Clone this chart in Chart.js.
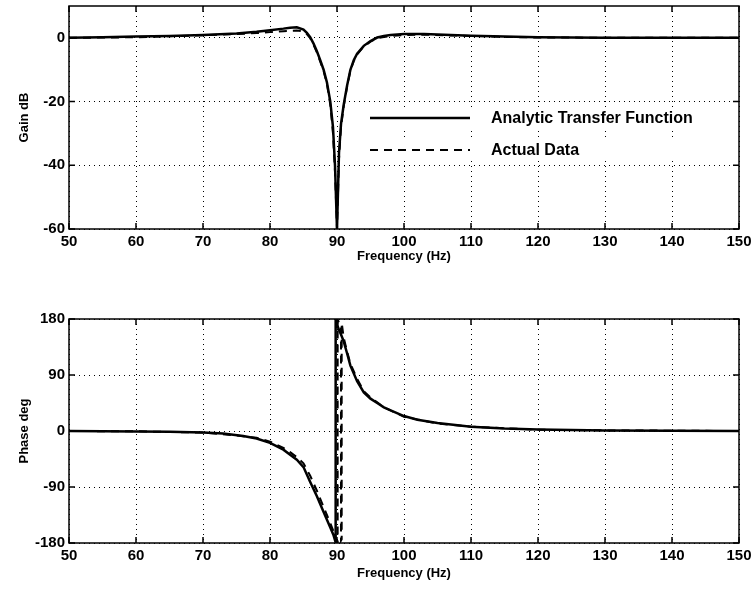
<!DOCTYPE html>
<html>
<head>
  <title>Notch filter response</title>
  <script src="https://cdn.jsdelivr.net/npm/chart.js"></script>
  <style>
    body { margin: 0; background: #fff; }
    .box { width: 752px; position: relative; }
  </style>
</head>
<body>

<div class="box" style="height:296px"><canvas id="chartGain" width="752" height="296"></canvas></div>
<div class="box" style="height:297px"><canvas id="chartPhase" width="752" height="297"></canvas></div>

<script>
// frequency ticks + axis ticks
const freqTicks = [50, 60, 70, 80, 90, 100, 110, 120, 130, 140, 150];
const gainTicks = [-60, -40, -20, 0];
const phaseTicks = [-180, -90, 0, 90, 180];

// gain (dB), analytic
const gainFreq = [50, 55, 60, 65, 70, 75, 78, 80, 82, 83, 84, 85, 85.5, 86, 86.5, 87, 87.5, 88, 88.5, 89, 89.4, 89.7, 90,
  90.3, 90.6, 91, 91.5, 92, 92.5, 93, 94, 95, 96, 97, 98, 100, 103, 106, 110, 115, 120, 125, 130, 140, 150];
const gainModel = [0, 0.2, 0.4, 0.6, 0.9, 1.4, 1.9, 2.4, 2.9, 3.2, 3.3, 2.6, 1.6, 0.2, -1.8, -4.2, -7, -10, -14, -20, -28, -40, -60,
  -36, -27, -21, -15, -10, -7, -5, -2.5, -1, 0.1, 0.6, 0.9, 1.2, 1.2, 1.0, 0.7, 0.4, 0.2, 0.1, 0.05, 0, 0];
// gain (dB), measured
const gainData = [0, 0.1, 0.2, 0.5, 0.8, 1.2, 1.5, 1.8, 2.1, 2.2, 2.3, 2.0, 1.2, -0.1, -2.2, -4.6, -7.5, -10.4, -14.5, -21, -30, -42, -60,
  -38, -28, -21.5, -15.5, -10.3, -7.3, -5.2, -2.7, -1.2, -0.1, 0.3, 0.6, 0.9, 1.0, 0.8, 0.6, 0.3, 0.1, 0.1, 0, 0, 0];

// phase (deg), analytic
const phaseFreqModel = [50, 55, 60, 65, 70, 73, 76, 78, 80, 82, 83, 84, 85, 86, 87, 88, 89, 89.5, 89.8, 89.8,
  90.2, 90.6, 91, 91.5, 92, 93, 94, 95, 96, 97, 98, 100, 102, 105, 110, 115, 120, 130, 140, 150];
const phaseModel = [0, -0.3, -0.7, -1.2, -2.5, -4, -8, -12, -19, -30, -38, -46, -58, -82, -105, -130, -155, -168, -179, 180,
  165, 155, 144, 125, 105, 80, 62, 52, 45, 38, 33, 24, 18, 13, 7, 4, 2.5, 1, 0.5, 0];
// phase (deg), measured
const phaseFreqData = [50, 60, 70, 75, 78, 80, 82, 83, 84, 85, 86, 87, 88, 89, 89.5, 89.8, 90.1, 90.1, 90.3, 90.6, 90.6,
  90.7, 90.7, 91, 91.5, 92, 93, 94, 95, 96, 97, 98, 100, 105, 110, 120, 130, 150];
const phaseData = [0, -0.5, -2.5, -7, -11, -17, -27, -34, -42, -52, -72, -96, -122, -148, -162, -172, -179, 179, 175, 172, -176,
  -174, 174, 150, 128, 108, 84, 64, 54, 46, 38, 33, 23, 12, 7, 2, 1, 0];

const legendNames = ['Analytic Transfer Function', 'Actual Data'];

function pts(xs, ys) { return xs.map((x, i) => ({ x: x, y: ys[i] })); }

// box around plot + inward ticks
const frame = {
  id: 'frame',
  afterDraw(chart) {
    const { ctx, chartArea: a, scales } = chart;
    ctx.save();
    ctx.strokeStyle = '#000';
    ctx.lineWidth = 1.5;
    ctx.strokeRect(a.left, a.top, a.right - a.left, a.bottom - a.top);
    ctx.beginPath();
    scales.x.ticks.forEach(t => {
      const px = scales.x.getPixelForValue(t.value);
      ctx.moveTo(px, a.bottom); ctx.lineTo(px, a.bottom - 6);
      ctx.moveTo(px, a.top); ctx.lineTo(px, a.top + 6);
    });
    scales.y.ticks.forEach(t => {
      const py = scales.y.getPixelForValue(t.value);
      ctx.moveTo(a.left, py); ctx.lineTo(a.left + 6, py);
      ctx.moveTo(a.right, py); ctx.lineTo(a.right - 6, py);
    });
    ctx.stroke();
    ctx.restore();
  }
};

// legend drawn inside the gain plot, no box
const innerLegend = {
  id: 'innerLegend',
  afterDraw(chart) {
    if (chart.canvas.id !== 'chartGain') return;
    const ctx = chart.ctx;
    const rows = [118, 150];
    ctx.save();
    chart.data.datasets.forEach((ds, i) => {
      ctx.fillStyle = '#fff';
      ctx.fillRect(368, rows[i] - 11, 335, 22);
      ctx.strokeStyle = '#000';
      ctx.lineWidth = ds.borderWidth;
      ctx.setLineDash(ds.borderDash || []);
      ctx.beginPath();
      ctx.moveTo(370, rows[i]); ctx.lineTo(470, rows[i]);
      ctx.stroke();
      ctx.setLineDash([]);
      ctx.fillStyle = '#000';
      ctx.font = 'bold 16px "Liberation Sans", Arial, sans-serif';
      ctx.textBaseline = 'middle';
      ctx.fillText(ds.label, 491, rows[i] + 1);
    });
    ctx.restore();
  }
};

const tickFont = { family: '"Liberation Sans", Arial, sans-serif', size: 15, weight: 'bold' };
const titleFont = { family: '"Liberation Sans", Arial, sans-serif', size: 13, weight: 'bold' };

function makeOptions(yMin, yMax, yTicks, yTitle, xHeight, padBottom, padTop) {
  return {
    responsive: false,
    animation: false,
    layout: { padding: { top: padTop, right: 13, left: 0, bottom: padBottom } },
    plugins: { legend: { display: false }, tooltip: { enabled: false } },
    scales: {
      x: {
        type: 'linear', min: 50, max: 150,
        afterBuildTicks: s => { s.ticks = freqTicks.map(v => ({ value: v })); },
        afterFit: s => { s.height = xHeight; s.paddingLeft = 0; s.paddingRight = 0; },
        grid: { color: '#000', lineWidth: 1, drawTicks: false },
        border: { display: false, dash: [1, 4] },
        ticks: { color: '#000', font: tickFont, padding: 4, maxRotation: 0, autoSkip: false },
        title: { display: true, text: 'Frequency (Hz)', color: '#000', font: titleFont, padding: { top: 0, bottom: 0 } }
      },
      y: {
        min: yMin, max: yMax,
        afterBuildTicks: s => { s.ticks = yTicks.map(v => ({ value: v })); },
        afterFit: s => { s.width = 69; s.paddingTop = 0; s.paddingBottom = 0; },
        grid: { color: '#000', lineWidth: 1, drawTicks: false },
        border: { display: false, dash: [1, 4] },
        ticks: { color: '#000', font: tickFont, padding: 4, autoSkip: false },
        title: { display: true, text: yTitle, color: '#000', font: titleFont, padding: { top: 17, bottom: 0 } }
      }
    }
  };
}

function lineSets(a, b) {
  return [
    { label: legendNames[0], data: a, borderColor: '#000', borderWidth: 2.5, pointRadius: 0, tension: 0, fill: false },
    { label: legendNames[1], data: b, borderColor: '#000', borderWidth: 2, borderDash: [8, 6], pointRadius: 0, tension: 0, fill: false }
  ];
}

new Chart(document.getElementById('chartGain').getContext('2d'), {
  type: 'line',
  data: { datasets: lineSets(pts(gainFreq, gainModel), pts(gainFreq, gainData)) },
  options: makeOptions(-60, 10, gainTicks, 'Gain dB', 35, 32, 6),
  plugins: [frame, innerLegend]
});

new Chart(document.getElementById('chartPhase').getContext('2d'), {
  type: 'line',
  data: { datasets: lineSets(pts(phaseFreqModel, phaseModel), pts(phaseFreqData, phaseData)) },
  options: makeOptions(-180, 180, phaseTicks, 'Phase deg', 38, 12, 23),
  plugins: [frame]
});
</script>

</body>
</html>
